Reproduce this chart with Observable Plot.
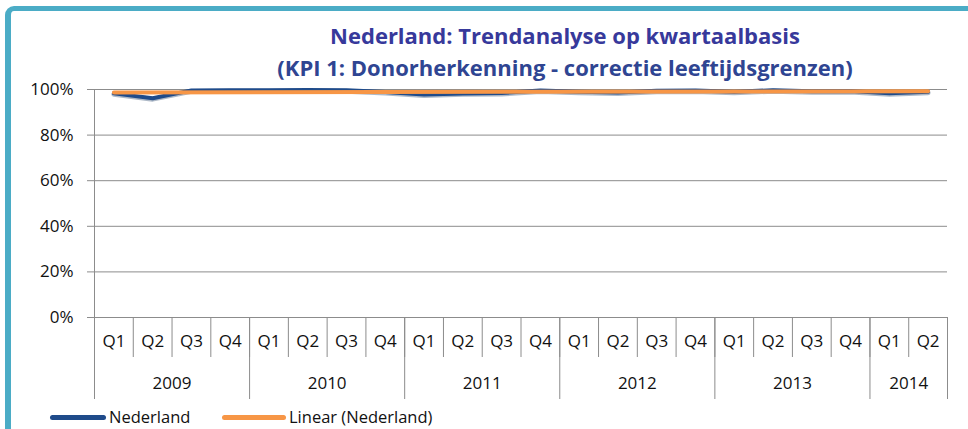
<!DOCTYPE html>
<html>
<head>
<meta charset="utf-8">
<script src="https://cdn.jsdelivr.net/npm/d3@7"></script>
<script src="https://cdn.jsdelivr.net/npm/@observablehq/plot@0.6"></script>
<style>
  html, body { margin: 0; padding: 0; background: #fff; }
  #wrap { position: relative; width: 968px; height: 429px; overflow: hidden; font-family: "Open Sans", sans-serif; }
  #frame { position: absolute; left: 5px; top: 6px; width: 1000px; height: 500px;
           border-top: 5px solid #4bacc6; border-left: 6px solid #4bacc6; border-top-left-radius: 9px; box-sizing: border-box; }
  #title { position: absolute; left: 165px; width: 800px; top: 19px; text-align: center;
           font-weight: bold; font-size: 22px; line-height: 32px; }
  #title .l1 { color: #37399b; }
  #title .l2 { color: #2f4592; }
  #chart { position: absolute; left: 0; top: 0; }
  #chart svg text { font-family: "Open Sans", sans-serif; font-size: 17px; }
  #legend { position: absolute; left: 0; top: 405px; height: 24px; font-size: 16.5px; color: #111; }
  .item { position: absolute; top: 0; white-space: nowrap; line-height: 24px; }
  .sw { display: inline-block; vertical-align: middle; height: 5px; border-radius: 3px; margin-right: 3px; position: relative; top: -1px; }
</style>
</head>
<body>
<div id="wrap">
  <div id="frame"></div>
  <div id="chart"></div>
  <div id="title"><div class="l1">Nederland: Trendanalyse op kwartaalbasis</div><div class="l2">(KPI 1: Donorherkenning - correctie leeftijdsgrenzen)</div></div>
  <div id="legend"></div>
</div>
<script>
// ---- data ----
const years = ["2009", "2010", "2011", "2012", "2013", "2014"];
const quartersPerYear = [4, 4, 4, 4, 4, 2];
const quarterLabels = ["Q1","Q2","Q3","Q4","Q1","Q2","Q3","Q4","Q1","Q2","Q3","Q4",
                       "Q1","Q2","Q3","Q4","Q1","Q2","Q3","Q4","Q1","Q2"];
const nederland = [0.983, 0.962, 0.996, 0.997, 0.997, 0.998, 0.997, 0.989,
                   0.978, 0.983, 0.985, 0.996, 0.990, 0.987, 0.995, 0.996,
                   0.990, 0.997, 0.992, 0.993, 0.983, 0.990];
const yTicks = [0, 0.2, 0.4, 0.6, 0.8, 1.0];
const seriesNames = ["Nederland", "Linear (Nederland)"];
const seriesColors = ["#1f4b8a", "#f79646"];

// ---- derived tables ----
const data = nederland.map((v, i) => ({i, q: quarterLabels[i], v}));
const yearStarts = [];
{ let s = 0; for (const n of quartersPerYear) { yearStarts.push(s); s += n; } }
const yearBounds = [...yearStarts, quarterLabels.length];
const yearMids = yearStarts.map((s, k) => s + quartersPerYear[k] / 2);
const quarterBounds = d3.range(0, quarterLabels.length + 1);
const quarterMids = quarterLabels.map((_, i) => i + 0.5);

const gray = "#8c8c8c";
const txt = "#111";

const chart = Plot.plot({
  width: 968,
  height: 429,
  marginLeft: 94,
  marginRight: 21,
  marginTop: 89,
  marginBottom: 112,
  style: {background: "transparent", fontFamily: "'Open Sans', sans-serif", fontSize: "17px", color: txt, overflow: "visible"},
  x: {type: "linear", domain: [0, quarterLabels.length]},
  y: {domain: [0, 1]},
  marks: [
    Plot.ruleY(yTicks, {stroke: gray, strokeWidth: 1}),
    Plot.ruleX([0], {stroke: gray, strokeWidth: 1}),
    Plot.axisY({ticks: yTicks, tickFormat: d3.format(".0%"), tickSize: 7, tickPadding: 14,
                stroke: gray, fill: txt, label: null, fontSize: 17, fontVariant: "normal"}),
    Plot.axisX({ticks: quarterBounds, tickSize: 40, tickFormat: () => "", stroke: gray, label: null}),
    Plot.axisX({ticks: yearBounds, tickSize: 82, tickFormat: () => "", stroke: gray, label: null}),
    Plot.axisX({ticks: quarterMids, tickSize: 0, tickPadding: 17,
                tickFormat: (d) => quarterLabels[Math.round(d - 0.5)], fill: txt, label: null, fontSize: 17}),
    Plot.axisX({ticks: yearMids, tickSize: 0, tickPadding: 59,
                tickFormat: (d) => years[yearMids.indexOf(d)], fill: txt, label: null, fontSize: 17}),
    Plot.line(data, {x: (d) => d.i + 0.5, y: "v", stroke: "#16365f", strokeWidth: 5, strokeOpacity: 0.35, dy: 1}),
    Plot.line(data, {x: (d) => d.i + 0.5, y: "v", stroke: seriesColors[0], strokeWidth: 4, strokeLinejoin: "round"}),
    Plot.linearRegressionY(data, {x: (d) => d.i + 0.5, y: "v", stroke: seriesColors[1], strokeWidth: 4, ci: 0})
  ]
});
document.getElementById("chart").appendChild(chart);

// legend
const legend = document.getElementById("legend");
const legendPos = [{sw: 50, w: 56}, {sw: 222, w: 64}];
seriesNames.forEach((name, k) => {
  const item = document.createElement("div");
  item.className = "item";
  item.style.left = legendPos[k].sw + "px";
  const sw = document.createElement("span");
  sw.className = "sw";
  sw.style.width = legendPos[k].w + "px";
  sw.style.background = seriesColors[k];
  item.appendChild(sw);
  item.appendChild(document.createTextNode(name));
  legend.appendChild(item);
});
</script>
</body>
</html>
